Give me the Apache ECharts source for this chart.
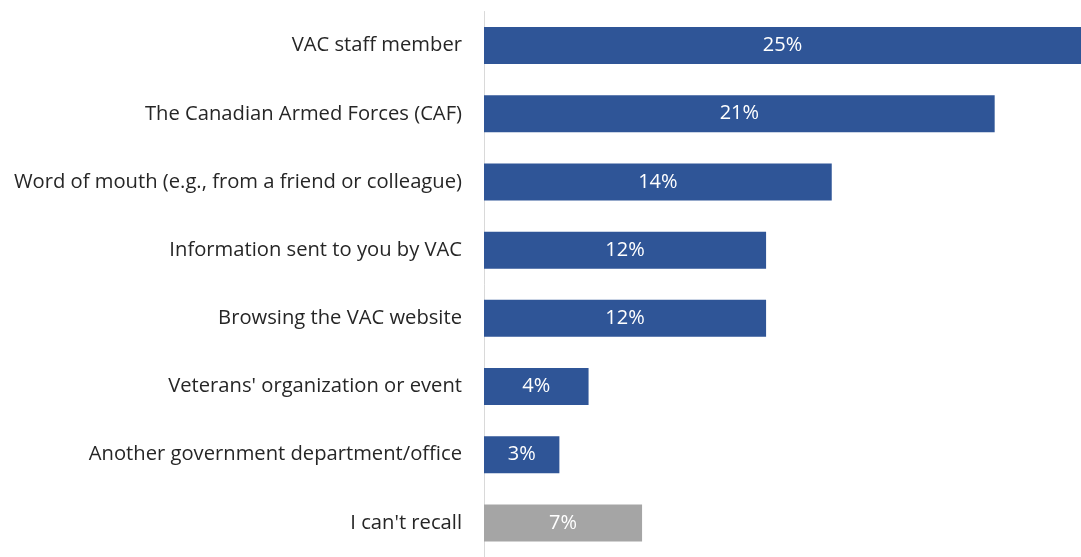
<!DOCTYPE html>
<html>
<head>
<meta charset="utf-8">
<script src="https://cdn.jsdelivr.net/npm/echarts@6/dist/echarts.min.js"></script>
<style>
  html, body { margin: 0; padding: 0; background: #fff; }
  #chart { width: 1081px; height: 557px; }
</style>
</head>
<body>
<div id="chart"></div>
<script>
// categories, top to bottom
const categories = [
  'VAC staff member',
  'The Canadian Armed Forces (CAF)',
  'Word of mouth (e.g., from a friend or colleague)',
  'Information sent to you by VAC',
  'Browsing the VAC website',
  "Veterans' organization or event",
  'Another government department/office',
  "I can't recall"
]
// (labels are rounded)
const values = [24.8, 21.0, 14.3, 11.6, 11.6, 4.3, 3.1, 6.5]
const barColors = ['#2F5597', '#2F5597', '#2F5597', '#2F5597', '#2F5597', '#2F5597', '#2F5597', '#A5A5A5']

const chart = echarts.init(document.getElementById('chart'))

const data = values.map((v, i) => ({
  value: v,
  itemStyle: { color: barColors[i] }
}))

chart.setOption({
  animation: false,
  grid: { left: 484, top: 11.5, right: 0, bottom: -5.5 },
  xAxis: {
    type: 'value',
    min: 0,
    max: 24.55, // the top bar runs off the right edge in the original
    show: false
  },
  yAxis: {
    type: 'category',
    inverse: true,
    data: categories,
    axisLine: { show: true, lineStyle: { color: '#D9D9D9', width: 1 } },
    axisTick: { show: false },
    axisLabel: {
      color: '#262626',
      fontFamily: 'Open Sans',
      fontSize: 20.2,
      margin: 22
    }
  },
  series: [{
    type: 'bar',
    data: data,
    barWidth: 37,
    label: {
      show: true,
      position: 'inside',
      color: '#fff',
      fontFamily: 'Open Sans',
      fontSize: 20,
      formatter: p => Math.round(p.value) + '%'
    }
  }]
})
</script>
</body>
</html>
